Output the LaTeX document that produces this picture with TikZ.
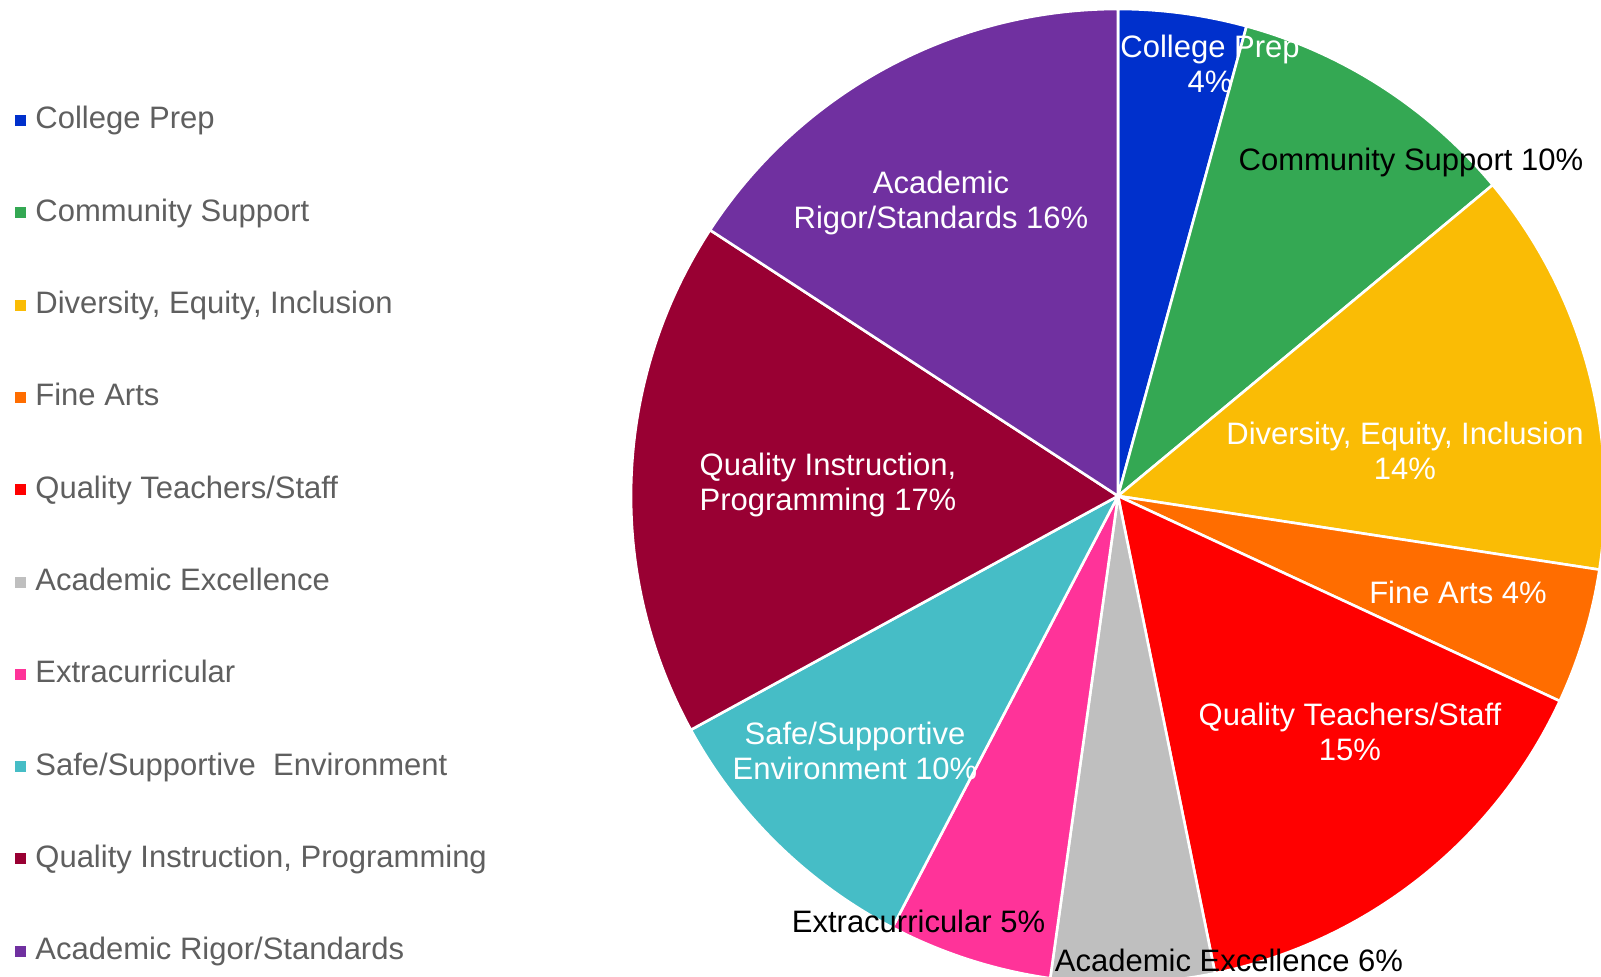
\documentclass[tikz,border=0pt]{standalone}
\usepackage{fontspec}
\setmainfont{Liberation Sans}
\definecolor{cpblue}{RGB}{0,48,204}
\definecolor{csgreen}{RGB}{52,168,83}
\definecolor{deyellow}{RGB}{250,188,5}
\definecolor{faorange}{RGB}{255,109,0}
\definecolor{qtred}{RGB}{255,0,0}
\definecolor{aegrey}{RGB}{191,191,191}
\definecolor{expink}{RGB}{255,51,153}
\definecolor{ssteal}{RGB}{70,189,198}
\definecolor{qidark}{RGB}{153,0,51}
\definecolor{arpurple}{RGB}{112,48,160}
\definecolor{leggrey}{RGB}{95,95,95}
\begin{document}
\begin{tikzpicture}[x=0.5pt,y=0.5pt,
  slice/.style={draw=white, line width=1.3pt, line join=round},
  lbl/.style={font=\fontsize{15.5}{17.5}\selectfont, inner sep=0pt, align=center},
  wlbl/.style={lbl, text=white},
  blbl/.style={lbl, text=black},
  legsq/.style={minimum size=5.5pt, inner sep=0pt, fill=#1},
  legtxt/.style={font=\fontsize{15.5}{17.5}\selectfont, text=leggrey, anchor=base west, inner sep=0pt}]
\clip (0,0) rectangle (1601,976);
\coordinate (c) at (1118,480);
\def\R{487}
% slices, clockwise from 12 o'clock
\filldraw[slice, fill=cpblue]   (c) -- ++(90:\R)     arc[start angle=90,     end angle=74.7,   radius=\R] -- cycle;
\filldraw[slice, fill=csgreen]  (c) -- ++(74.7:\R)   arc[start angle=74.7,   end angle=39.7,   radius=\R] -- cycle;
\filldraw[slice, fill=deyellow] (c) -- ++(39.7:\R)   arc[start angle=39.7,   end angle=-8.7,   radius=\R] -- cycle;
\filldraw[slice, fill=faorange] (c) -- ++(-8.7:\R)   arc[start angle=-8.7,   end angle=-24.9,  radius=\R] -- cycle;
\filldraw[slice, fill=qtred]    (c) -- ++(-24.9:\R)  arc[start angle=-24.9,  end angle=-78.5,  radius=\R] -- cycle;
\filldraw[slice, fill=aegrey]   (c) -- ++(-78.5:\R)  arc[start angle=-78.5,  end angle=-98,    radius=\R] -- cycle;
\filldraw[slice, fill=expink]   (c) -- ++(-98:\R)    arc[start angle=-98,    end angle=-117.6, radius=\R] -- cycle;
\filldraw[slice, fill=ssteal]   (c) -- ++(-117.6:\R) arc[start angle=-117.6, end angle=-151.3, radius=\R] -- cycle;
\filldraw[slice, fill=qidark]   (c) -- ++(-151.3:\R) arc[start angle=-151.3, end angle=-213.1, radius=\R] -- cycle;
\filldraw[slice, fill=arpurple] (c) -- ++(-213.1:\R) arc[start angle=-213.1, end angle=-270,   radius=\R] -- cycle;
% slice labels
\node[wlbl] (lcp) at (1210,912) {College Prep\\4\%};
\node[blbl] (lcs) at (1411,814) {Community Support 10\%};
\node[wlbl] (lde) at (1405,525) {Diversity, Equity, Inclusion\\14\%};
\node[wlbl] (lfa) at (1458,384) {Fine Arts 4\%};
\node[wlbl] (lqt) at (1350,244.5) {Quality Teachers/Staff\\15\%};
\node[blbl] (lae) at (1229,16) {Academic Excellence 6\%};
\node[blbl] (lex) at (918.5,55) {Extracurricular 5\%};
\node[wlbl] (lss) at (855,225.5) {Safe/Supportive\\Environment 10\%};
\node[wlbl] (lqi) at (828,491) {Quality Instruction,\\Programming 17\%};
\node[wlbl] (lar) at (941,773) {Academic\\Rigor/Standards 16\%};
% legend
\node[legsq=cpblue]   (sq0) at (20.5,855.5) {};
\node[legtxt] (lg0) at (35,847) {College Prep};
\node[legsq=csgreen]  (sq1) at (20.5,763.2) {};
\node[legtxt] (lg1) at (35,754.7) {Community Support};
\node[legsq=deyellow] (sq2) at (20.5,670.9) {};
\node[legtxt] (lg2) at (35,662.4) {Diversity, Equity, Inclusion};
\node[legsq=faorange] (sq3) at (20.5,578.6) {};
\node[legtxt] (lg3) at (35,570.1) {Fine Arts};
\node[legsq=qtred]    (sq4) at (20.5,486.3) {};
\node[legtxt] (lg4) at (35,477.8) {Quality Teachers/Staff};
\node[legsq=aegrey]   (sq5) at (20.5,394.0) {};
\node[legtxt] (lg5) at (35,385.5) {Academic Excellence};
\node[legsq=expink]   (sq6) at (20.5,301.7) {};
\node[legtxt] (lg6) at (35,293.2) {Extracurricular};
\node[legsq=ssteal]   (sq7) at (20.5,209.4) {};
\node[legtxt] (lg7) at (35,200.9) {Safe/Supportive\ \ Environment};
\node[legsq=qidark]   (sq8) at (20.5,117.1) {};
\node[legtxt] (lg8) at (35,108.6) {Quality Instruction, Programming};
\node[legsq=arpurple] (sq9) at (20.5,24.8) {};
\node[legtxt] (lg9) at (35,16.3) {Academic Rigor/Standards};
\end{tikzpicture}
\end{document}
